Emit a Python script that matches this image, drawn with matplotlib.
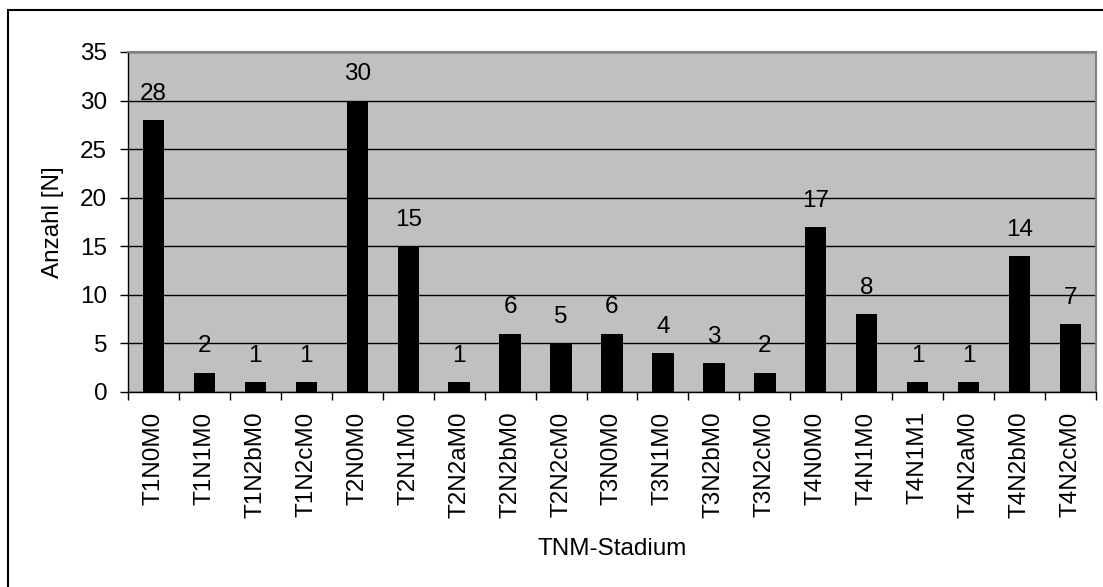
#TNM-Stadium Verteilung als Balkendiagramm
import matplotlib.pyplot as plt
from matplotlib.patches import Rectangle
import numpy as np

#DATA
stadien = ['T1N0M0', 'T1N1M0', 'T1N2bM0', 'T1N2cM0', 'T2N0M0', 'T2N1M0',
           'T2N2aM0', 'T2N2bM0', 'T2N2cM0', 'T3N0M0', 'T3N1M0', 'T3N2bM0',
           'T3N2cM0', 'T4N0M0', 'T4N1M0', 'T4N1M1', 'T4N2aM0', 'T4N2bM0',
           'T4N2cM0']
anzahl = [28, 2, 1, 1, 30, 15, 1, 6, 5, 6, 4, 3, 2, 17, 8, 1, 1, 14, 7]
y_ticks = [0, 5, 10, 15, 20, 25, 30, 35]

plt.rcParams['font.family'] = ['Liberation Sans', 'DejaVu Sans']
fs = 17.5

W, H = 1103, 587
fig = plt.figure(figsize=(W / 100, H / 100), dpi=100)
#plot area in pixels: left 128, right 1096, top 52, bottom 392
ax = fig.add_axes([128 / W, 1 - 392 / H, (1096 - 128) / W, (392 - 52) / H])
ax.set_facecolor('#c0c0c0')

x = np.arange(len(stadien))
ax.bar(x, anzahl, width=0.42, color='black', zorder=3)
for xi, v in zip(x, anzahl):
    ax.annotate(str(v), (xi, v), xytext=(0, 11), textcoords='offset points',
                ha='center', va='bottom', fontsize=fs, zorder=4)

ax.set_xlim(-0.5, len(stadien) - 0.5)
ax.set_ylim(0, 35)
ax.set_yticks(y_ticks)
ax.tick_params(axis='y', labelsize=fs, length=6, width=1, direction='out', pad=9)
ax.set_xticks(x)
ax.set_xticklabels(stadien, rotation=90, fontsize=fs)
ax.tick_params(axis='x', length=0, pad=14)
ax.set_xticks(np.arange(len(stadien) + 1) - 0.5, minor=True)
ax.tick_params(axis='x', which='minor', length=6, width=1, direction='out')
ax.grid(axis='y', color='black', linewidth=1, zorder=1)
ax.set_axisbelow(True)

for side in ['top', 'right']:
    ax.spines[side].set_color('#808080')
    ax.spines[side].set_linewidth(1.5)
for side in ['left', 'bottom']:
    ax.spines[side].set_color('black')
    ax.spines[side].set_linewidth(1)

ax.set_ylabel('Anzahl [N]', fontsize=fs)
ax.yaxis.set_label_coords(-0.066, 0.5)
ax.set_xlabel('TNM-Stadium', fontsize=fs)
ax.xaxis.set_label_coords(0.5, -0.43)

#outer frame
fig.patches.append(Rectangle((8 / W, -0.05), 1.1, 1 - 10 / H + 0.05,
                             transform=fig.transFigure, fill=False,
                             edgecolor='black', linewidth=1.5))

fig.savefig('out.png', dpi=100)
